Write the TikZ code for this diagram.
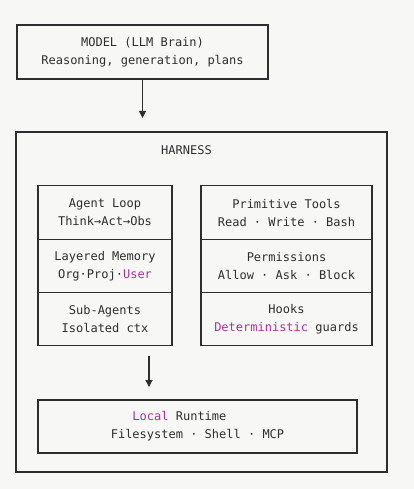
\documentclass[tikz,border=0pt]{standalone}
\usepackage{fontspec}
\setmonofont{DejaVu Sans Mono}
\usetikzlibrary{positioning,arrows.meta}
\definecolor{paper}{HTML}{F7F7F5}
\definecolor{ink}{HTML}{2E2E2E}
\definecolor{hl}{HTML}{A8329A}
\tikzset{%
  font=\ttfamily\fontsize{12}{18}\selectfont,
  >={Triangle[length=7pt,width=7pt]},
  box/.style={draw=ink,rectangle,line width=1.1pt,align=center,inner sep=0pt,outer sep=0pt,text=ink},
  cell/.style={box,minimum height=53.3pt},
  lcell/.style={cell,minimum width=134pt},
  rcell/.style={cell,minimum width=171pt},
  line/.style={draw=ink,line width=1.1pt,->}
}
\begin{document}
\begin{tikzpicture}[x=1pt,y=-1pt]
	\fill[paper] (0,0) rectangle (414,489);
	\node[box,minimum width=251pt,minimum height=54pt] (model) at (142.5,52)
		{MODEL (LLM Brain)\\Reasoning, generation, plans};
	\coordinate (mtip) at (142.5,118);
	\draw[line] (model.south) -- (mtip);
	
	% harness frame
	\node[box,minimum width=371pt,minimum height=340pt] (harness) at (201.5,302) {};
	\node[text=ink] (hname) at (186.5,150) {HARNESS};
	
	% left column
	\node[lcell] (loop) at (105,212.5) {Agent Loop\\Think→Act→Obs};
	\node[lcell,below=0pt of loop] (memory) {Layered Memory\\Org·Proj·\textcolor{hl}{User}};
	\node[lcell,below=0pt of memory] (subagents) {Sub-Agents\\Isolated ctx};
	
	% right column
	\node[rcell] (tools) at (286.5,212.5) {Primitive Tools\\Read · Write · Bash};
	\node[rcell,below=0pt of tools] (perms) {Permissions\\Allow · Ask · Block};
	\node[rcell,below=0pt of perms] (hooks) {Hooks\\\textcolor{hl}{Deterministic} guards};
	
	\node[box,minimum width=319pt,minimum height=53pt] (runtime) at (197.5,426.5)
		{\textcolor{hl}{Local} Runtime\hphantom{xxxxx}\\Filesystem · Shell · MCP};
	\coordinate (rtail) at (149,356);
	\coordinate (rtip) at (149,387);
	\draw[line] (rtail) -- (rtip);
\end{tikzpicture}
\end{document}
